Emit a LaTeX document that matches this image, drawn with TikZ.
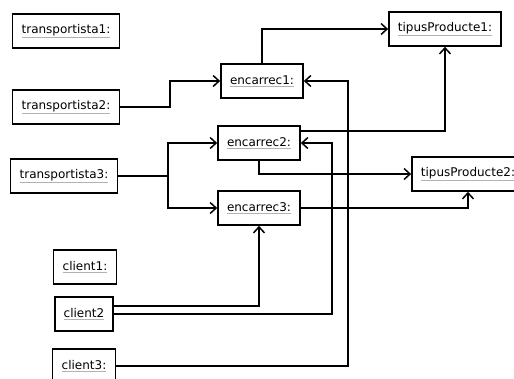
\documentclass[tikz,border=0pt]{standalone}
\usepackage{fontspec}
\setmainfont{DejaVu Sans}
\usepackage{xcolor}
\usepackage{tikz}
\usetikzlibrary{arrows.meta}
\newcommand{\objname}[1]{{\color{gray!60}\underline{\color{black}#1}}}
\tikzset{
    obj/.style = {rectangle, draw=black, line width=1.6pt, fill=white, minimum height=34pt, inner xsep=9pt, text centered, font=\fontsize{12}{14}\selectfont},
    arrow/.style = {line width=1.5pt, -{Straight Barb[length=6pt,width=11pt,line width=1.5pt]}},
    link/.style = {line width=1.5pt}
}
\begin{document}
\begin{tikzpicture}[x=1pt,y=-1pt]
\useasboundingbox (0,0) rectangle (514,378);
\node (t1) [obj] at (66,31) {\objname{transportista1:}};
\node (t2) [obj] at (66,107) {\objname{transportista2:}};
\node (t3) [obj] at (64,176) {\objname{transportista3:}};
\node (e1) [obj] at (262,81) {\objname{encarrec1:}};
\node (e2) [obj] at (259,143) {\objname{encarrec2:}};
\node (e3) [obj] at (259,208) {\objname{encarrec3:}};
\node (tp1) [obj] at (445,29) {\objname{tipusProducte1:}};
\node (tp2) [obj] at (468,174) {\objname{tipusProducte2:}};
\node (c1) [obj] at (85,267) {\objname{client1:}};
\node (c2) [obj] at (84,314) {\objname{client2}};
\node (c3) [obj] at (84,366) {\objname{client3:}};

\draw [arrow] (t2.east) -- ++(50,0) |- (e1.west);
\draw [link] (t3.east) -- ++(50,0) coordinate (split);
\draw [arrow] (split) |- (e2.west);
\draw [arrow] (split) |- (e3.west);
\draw [arrow] (e1.north) |- (tp1.west);
\draw [arrow] ([yshift=12pt]e2.east) -| (tp1.south);
\draw [arrow] (e2.south) |- (tp2.west);
\draw [arrow] (e3.east) -| (tp2.south);
\draw [arrow] ([yshift=8pt]c2.east) -| (e3.south);
\draw [arrow] (c2.east) -| ([xshift=31pt]e2.east) -- (e2.east);
\draw [arrow] (c3.east) -| ([xshift=44pt]e1.east) -- (e1.east);
\end{tikzpicture}
\end{document}
